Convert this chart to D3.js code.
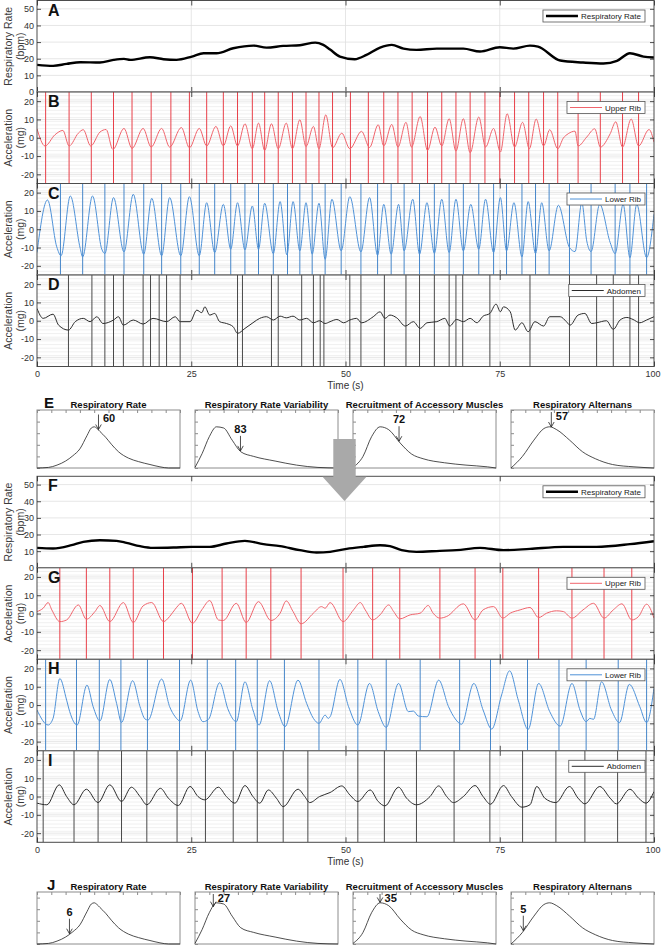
<!DOCTYPE html>
<html>
<head>
<meta charset="utf-8">
<script src="https://cdn.jsdelivr.net/npm/d3@7.9.0/dist/d3.min.js"></script>
<style>
  body { margin: 0; background: #fff; }
  svg { display: block; }
  text { font-family: "Liberation Sans", Arial, sans-serif; }
</style>
</head>
<body>
<svg id="chart" width="661" height="945"></svg>
<script>
// ---------- data ----------
const timeTicks = [0, 25, 50, 75, 100];
const rateTicks = [0, 10, 20, 30, 40, 50];
const accTicks = [-20, -10, 0, 10, 20];

// before: respiratory rate (bpm)
const rateBefore = [[0,16.3],[2.6,15.7],[4.8,16.9],[7,17.9],[10.2,17.7],[12.4,19.3],[14.1,19.9],[15.1,19.3],[18.3,20.9],[20.5,19.7],[22.6,19.3],[25.1,21.3],[27,23.3],[29.1,23.3],[31.8,26.3],[35.1,27.9],[37.2,26.7],[39.9,27.7],[42.6,28.1],[45.1,29.7],[46.4,28.3],[47.5,25.5],[49.1,21.3],[51.5,19.7],[53.4,22.3],[55.6,26.7],[57.5,28.3],[59.4,26.1],[61.5,25.3],[64.8,26.1],[69.1,26.1],[71.8,24.3],[75,26.9],[77.2,26.1],[79.9,27.9],[81.2,27.3],[84.8,18.9],[88.5,17.7],[91.8,17.1],[94,18.7],[96.1,23.3],[98.3,21.3],[100,20.7]];

// before: upper rib acceleration (mg) and breath markers (s)
const upperBefore = [[0,4.9],[1.3,-4.5],[2.9,1.6],[4.2,4],[5.2,-4.5],[6.7,2.5],[7.5,4.4],[8.7,-4.5],[10.2,3.1],[11.2,4.5],[12.3,-6.4],[14.1,5.1],[15.4,-5.8],[17.2,5.1],[18.5,-5.1],[20.2,5.1],[21.5,-5.1],[23.4,5.6],[24.7,-5.5],[26.3,5.1],[27.5,-4.5],[29,6.2],[30.2,-4.5],[31.4,6.5],[32.5,-4.5],[33.7,7.6],[34.9,-6],[35.9,8],[36.9,-6.9],[38,7.6],[39.1,-6],[40.4,8],[41.4,-6],[42.6,9.8],[43.6,-4.8],[44.8,6.2],[45.7,-6],[46.8,12.5],[47.9,-5.5],[49.4,2.5],[50.7,-6],[52.6,3.5],[53.9,-5.3],[55.3,7.1],[56.2,-4.5],[57.5,7.3],[58.5,-5.1],[59.8,8.4],[60.7,-5.1],[62.1,11.6],[63.3,-6.9],[64.5,5.8],[65.6,-4.5],[66.8,10.4],[67.9,-7.3],[69.1,10.4],[70.2,-8.2],[71.6,11.3],[72.7,-5.1],[74,5.1],[75.1,-7.8],[76.2,13.1],[77.4,-5.1],[78.7,8.4],[79.8,-6],[80.9,10.2],[82.1,-4.5],[83.1,4.4],[84.4,-6],[85.3,-0.2],[86.1,2.2],[87.2,3.6],[87.7,-4.5],[89.1,0.4],[90.4,4.9],[91.3,-5.1],[92.9,2.2],[93.8,8.7],[94.9,-5.1],[96.3,10.2],[97.5,-4.5],[99.2,4.5],[100,-2.4]];
const upperBeforeMarks = [1.4,5.2,8.8,12.4,15.4,18.5,21.7,24.7,27.5,30.2,32.5,34.9,36.9,39.1,41.4,43.6,45.7,47.9,50.8,53.7,56.2,58.5,60.8,63.3,65.6,67.9,70.2,72.6,75.0,77.4,79.7,82.1,84.4,87.7,91.3,94.9,97.5];

// before: lower rib
const lowerBefore = [[0,-12.7],[1.7,16],[3.2,-9.6],[3.9,-14.5],[5.4,18.2],[7,-10.4],[7.4,-15.1],[9,18.2],[10.5,-10.9],[11,-13.3],[12.4,17.3],[14.1,-12.4],[15.6,19.1],[17.3,-13.6],[18.6,16.9],[20.2,-14.5],[21.5,17.3],[23.3,-14.5],[24.7,17.8],[26.3,-14.5],[27.5,14.5],[28.8,-12.7],[30.2,13.6],[31.4,-10.9],[32.5,14.5],[33.7,-11.3],[34.9,12.7],[35.9,-10.9],[36.9,14.2],[38.3,-13.3],[39.4,15.1],[40.5,-14],[41.5,15.1],[42.6,-11.8],[43.6,14.5],[44.6,-13.6],[45.7,14.2],[46.7,-16.4],[47.8,16.4],[49.3,-11.8],[50.7,17.8],[52.5,-12.4],[53.9,17.3],[55.2,-14.2],[56.2,13.6],[57.4,-13.6],[58.6,13.6],[59.5,-11.8],[60.9,16.4],[62,-13.6],[63.2,14.5],[64.4,-13.1],[65.6,16.4],[66.8,-12.7],[67.9,16.4],[69.1,-11.8],[70.3,13.6],[71.6,-10.9],[72.7,16.4],[74,-12.7],[75.1,17.3],[76.1,-11.8],[77.3,14.5],[78.6,-15.1],[79.6,15.1],[80.8,-13.3],[81.8,14.5],[83,-11.8],[84.5,13.1],[86.3,-10],[87.2,-12.2],[88.3,14.5],[89.1,-6.4],[89.8,-12.2],[91.2,13.6],[92.9,-7.3],[93.7,-13.3],[95,13.6],[96.1,-15.5],[97.2,13.6],[98.8,-15.5],[100,8.2]];
const lowerBeforeMarks = [3.8,7.4,11.0,14.1,17.3,20.2,23.3,26.3,28.8,31.4,33.7,35.9,38.3,40.6,42.6,44.6,46.7,49.3,52.5,55.2,57.4,59.5,62,64.4,66.8,69.1,71.6,74,76.1,78.6,80.8,83,86.3,89.8,93.7,96.1,98.8];

// before: abdomen
const abdomenBefore = [[0,6.7],[1,1.3],[2.6,3.6],[3.5,-2.4],[5.1,-5.1],[6.2,-0.5],[7.5,1.3],[8.6,-0.5],[9.7,2.2],[10.7,-1.5],[12.4,0.4],[13.2,2.2],[14,-2.4],[15.6,0.4],[17.2,-1.8],[18.8,1.3],[21,-0.5],[22.4,2.2],[23.2,-0.5],[24.8,-0.5],[25.9,5.8],[26.7,4.4],[27.2,7.6],[28,3.1],[28.8,4],[29.6,-0.5],[30.7,-1.5],[31.8,-3.3],[32.5,-6.9],[33.7,-4.2],[35,-1.1],[36.1,1.3],[37.2,2.2],[38.3,0.4],[39.4,2.5],[40.4,1.6],[41.5,2.5],[42.6,0.4],[43.7,1.3],[44.8,-1.1],[45.8,0],[46.7,-1.5],[47.5,-0.5],[48.6,0.7],[49.7,-1.1],[50.7,0.4],[51.8,1.3],[52.6,-1.1],[54.5,2.2],[55.6,4.9],[56.4,1.3],[57.2,3.1],[58.3,1.6],[59.7,-2.9],[61,-0.5],[62.1,-4.2],[63.2,-1.1],[64.8,-0.5],[66.1,1.3],[66.9,-2.9],[68,0.7],[69.1,-0.5],[70.2,1.3],[71.3,-1.1],[72.3,2.5],[73.4,4],[74.4,9.1],[75.1,4.9],[75.6,7.6],[76.7,4.9],[77.5,-5.1],[78.6,-1.1],[79.6,-6],[80.7,-0.5],[82.1,-2.9],[83.1,2.2],[84.8,2.2],[85.8,-0.5],[86.4,-2.4],[87.7,3.1],[88.8,4],[89.9,-1.5],[90.7,-1.1],[92.3,0],[93.4,-4.7],[94.5,0.4],[95.6,1.8],[96.6,0.7],[97.7,-1.1],[98.8,0.4],[100,2.2]];
const abdomenBeforeMarks = [5.1,8.9,11.0,12.4,14.0,17.2,18.4,19.8,21.0,23.2,32.5,33.3,38.0,39.1,42.9,44.8,45.9,46.5,50.7,52.5,56.3,59.8,62,64.4,66.8,67.9,69,73.4,79.9,86.3,90.7,93.4,96.1,97.5];

// after
const rateAfter = [[0,12],[2.6,11.6],[5.6,13.6],[7.5,15.6],[10.2,16.6],[12.9,16.2],[14.5,15],[16.7,13],[18.8,12],[22.1,12.2],[25,12.6],[28,12.6],[30.7,14.6],[33.7,16.2],[36.7,14.2],[39.4,13],[42.6,10.6],[45.3,9.2],[47.5,9.6],[50.2,11.4],[52.9,12.6],[55.6,13.6],[57.2,13],[59.1,10.6],[61.5,9.6],[65.3,10.2],[68,10.6],[71.8,12],[75.6,10.6],[79.9,11.4],[85.3,12.6],[90.7,12.6],[96.1,14.2],[100,16]];

const upperAfter = [[0,1.1],[1,2.9],[1.8,6],[2.4,2],[3.7,-4.4],[4.8,-3.5],[6.7,4.7],[8,-3.1],[9.4,1.1],[10.2,4.4],[11.8,-4.4],[14,6],[15.6,-4.9],[17.2,4.2],[18.6,6],[20.5,-4.4],[21.5,-1.6],[22.4,2.4],[23.4,5.6],[25.2,-5.3],[26.7,2],[28,7.1],[29.4,-3.5],[30.2,-3.8],[32.3,5.6],[33.9,-4.9],[35.9,6.5],[37.9,-3.8],[39.4,0.2],[40.4,6.9],[41.5,1.1],[42.8,-5.6],[44.8,0.2],[46.1,3.8],[46.7,2.9],[47.5,6],[49.6,-4.4],[51.3,2],[52.4,6],[53.2,2],[54.4,-3.5],[55.6,-0.7],[57,4.7],[57.8,1.1],[58.8,-2.9],[60.5,-0.7],[62.1,0.2],[63.4,4.4],[64.2,0.2],[65.3,-2.5],[66.4,-1.6],[69.1,5.3],[71,-3.5],[72.3,2],[74,3.8],[75.5,-2.5],[76.7,0.2],[78.3,2],[79.9,3.3],[81.3,-2.2],[82.6,0.2],[84.2,1.5],[85.3,1.1],[86.7,-2.5],[88.5,2],[90.2,5.6],[91.9,-2.5],[93.4,2],[94.8,5.3],[96.4,-3.5],[97.5,-1.6],[98.8,5.1],[100,-2.5]];
const upperAfterMarks = [3.7,8.0,11.8,15.6,20.5,25.2,30,33.9,37.9,42.8,49.6,54.4,58.8,65.3,71,75.5,81.3,86.7,91.9,96.4];

const lowerAfter = [[0,-2.7],[1.8,-10.9],[2.6,-7.3],[3.7,14.5],[4.8,2.7],[5.3,-3.6],[6.5,-10.9],[8.1,10.9],[9.1,-0.9],[10.2,-8.7],[11.8,14],[12.9,0.9],[13.7,-9.5],[15.5,13.3],[16.7,-0.9],[17.5,-7.6],[18,-8.2],[20.2,14.2],[21.5,-0.9],[22.4,-6.4],[23.2,-8.7],[24.9,13.6],[26.1,-3.6],[26.9,-9.1],[27.8,-7.8],[29.6,12.2],[31,-2.7],[32.3,-9.1],[33.7,12.7],[35,-2.7],[36,-10.9],[37.7,13.3],[39.1,-3.6],[40.2,-11.8],[42.3,13.6],[43.7,0.9],[44.8,-7.3],[45.7,-10],[46.7,-5.5],[47.2,-7.3],[47.5,-6.4],[49.1,14],[50.5,-0.9],[52,-10.9],[53.9,11.8],[55.3,-3.6],[56.6,-12.2],[58.6,11.8],[60.2,-3.6],[61,-3.3],[61.8,-6],[63.2,-6.4],[65.1,13.6],[66.7,-0.9],[67.8,-7.6],[68.8,-10.5],[70.8,11.8],[72.3,-2.7],[73.7,-13.1],[75.3,5.5],[76.6,18.7],[78,2.7],[79.6,-13.3],[81.3,11.8],[83.1,-3.6],[84.8,-11.5],[86.7,11.8],[88,-2.7],[89,-9.1],[89.6,-7.3],[90.2,-7.8],[91.5,12.7],[93.1,-2.7],[94.4,-9.6],[96,11.3],[97.7,-0.9],[98.8,-9.6],[100,9.1]];
const lowerAfterMarks = [1.4,6.4,10.1,13.6,17.9,23.1,27.6,32.2,35.7,40.1,45.7,52,56.6,62.1,68.5,73.5,79.5,84.6,89,94.2,98.8];

const abdomenAfter = [[0,-3.6],[1.6,-4.5],[3.6,6.4],[4.8,0],[6,-4.5],[8,4],[9.9,-3.3],[11.8,6.4],[13.7,-2.7],[15.3,5.1],[16.7,0],[17.8,-4.5],[20,4.5],[21.3,-0.9],[22.9,-4.9],[24.8,5.5],[26.1,0],[27.2,-1.8],[29.4,5.1],[30.7,0],[32.1,-3.6],[33.7,6],[35,0],[36.1,-3.6],[37.5,3.6],[38.8,-0.9],[39.9,-5.5],[42.3,4],[43.4,0],[44.2,-3.3],[45.8,0],[47.5,2.2],[49.4,5.8],[50.7,0.9],[52,-2.7],[54,3.6],[55.3,-2.7],[56.4,-5.1],[58.6,5.1],[59.9,-0.9],[61.5,-4.5],[63.7,0],[65.1,5.8],[66.4,0],[67.5,-3.3],[69.1,0],[71,6],[72.3,0],[73.5,-4.2],[75.6,6],[76.9,0],[78.6,-5.8],[79.9,-4.5],[81,5.5],[82.3,-0.9],[84.1,-3.3],[86.3,5.5],[87.7,-0.9],[88.8,-4],[91.2,5.5],[92.9,-0.9],[93.9,-4],[96.1,4],[97.5,-0.9],[98.7,-3.6],[100,2.7]];
const abdomenAfterMarks = [1.0,6.0,9.9,13.7,17.8,22.7,27.3,31.8,35.7,39.9,43.9,52,56.3,61.5,67.6,73.4,78.7,84.1,88.8,94.1,98.7];

// population distributions: [relative position, relative density]
const distTitles = ['Respiratory Rate', 'Respiratory Rate Variability', 'Recruitment of Accessory Muscles', 'Respiratory Alternans'];
const distRate = [[0,0],[0.08,0.01],[0.14,0.05],[0.2,0.12],[0.25,0.21],[0.3,0.33],[0.35,0.56],[0.38,0.69],[0.4,0.71],[0.42,0.68],[0.44,0.63],[0.48,0.53],[0.52,0.41],[0.57,0.28],[0.64,0.17],[0.71,0.11],[0.79,0.06],[0.86,0.02],[0.92,0],[1,0]];
const distVariability = [[0,0.01],[0.05,0.25],[0.1,0.54],[0.15,0.71],[0.2,0.69],[0.26,0.48],[0.32,0.28],[0.41,0.2],[0.56,0.12],[0.71,0.05],[0.86,0.01],[1,0]];
const distAccessory = [[0,0.01],[0.07,0.2],[0.13,0.54],[0.19,0.71],[0.25,0.66],[0.33,0.43],[0.41,0.24],[0.49,0.16],[0.64,0.09],[0.79,0.05],[0.94,0.02],[1,0]];
const distAlternans = [[0,0],[0.08,0.2],[0.16,0.48],[0.23,0.68],[0.27,0.71],[0.32,0.66],[0.41,0.48],[0.5,0.28],[0.59,0.16],[0.71,0.06],[0.86,0.02],[1,0]];
const scoresBefore = [60, 83, 72, 57];
const scorePosBefore = [0.43, 0.318, 0.322, 0.282];
const scoresAfter = [6, 27, 35, 5];
const scorePosAfter = [0.227, 0.128, 0.189, 0.086];

// ---------- layout ----------
const plotLeft = 37, plotRight = 654, panelH = 91.5;
const ink = '#262626';
const svg = d3.select('#chart');
const x = d3.scaleLinear().domain([0, 100]).range([plotLeft, plotRight]);
let clipCount = 0;

function styleAxis(sel) {
  sel.attr('font-family', null).attr('font-size', null);
  sel.select('.domain').remove();
  sel.selectAll('.tick line').attr('stroke', ink).attr('stroke-width', 0.8);
  sel.selectAll('.tick text').attr('fill', '#333').style('font-size', '9px');
}

function drawPanel(top, p) {
  const bottom = top + panelH;
  const y = d3.scaleLinear().domain(p.domain).range([bottom, top]);
  const g = svg.append('g');
  const clipId = 'clip' + (clipCount++);
  g.append('clipPath').attr('id', clipId).append('rect')
    .attr('x', plotLeft).attr('y', top).attr('width', plotRight - plotLeft).attr('height', panelH);

  g.append('rect').attr('x', plotLeft).attr('y', top)
    .attr('width', plotRight - plotLeft).attr('height', panelH).attr('fill', '#fff');

  if (p.minor) {
    const minorVals = d3.range(p.domain[0], p.domain[1] + 1e-6, p.minor).filter(v => !p.ticks.includes(v));
    g.append('g').selectAll('line').data(minorVals).join('line')
      .attr('x1', plotLeft).attr('x2', plotRight)
      .attr('y1', d => y(d)).attr('y2', d => y(d))
      .attr('stroke', '#ececec').attr('stroke-width', 0.8);
  }
  g.append('g').selectAll('line').data(p.ticks).join('line')
    .attr('x1', plotLeft).attr('x2', plotRight)
    .attr('y1', d => y(d)).attr('y2', d => y(d))
    .attr('stroke', '#e0e0e0').attr('stroke-width', 0.8);
  g.append('g').selectAll('line').data(timeTicks.slice(1, -1)).join('line')
    .attr('x1', d => x(d)).attr('x2', d => x(d))
    .attr('y1', top).attr('y2', bottom)
    .attr('stroke', '#e0e0e0').attr('stroke-width', 0.8);

  if (p.marks) {
    g.append('g').attr('clip-path', `url(#${clipId})`)
      .selectAll('line').data(p.marks).join('line')
      .attr('x1', d => x(d)).attr('x2', d => x(d))
      .attr('y1', top).attr('y2', bottom)
      .attr('stroke', p.markColor).attr('stroke-width', 1);
  }

  const line = d3.line().x(d => x(d[0])).y(d => y(d[1])).curve(d3.curveMonotoneX);
  g.append('path').datum(p.data)
    .attr('clip-path', `url(#${clipId})`)
    .attr('d', line).attr('fill', 'none')
    .attr('stroke', p.color).attr('stroke-width', p.lw)
    .attr('stroke-linejoin', 'round');

  g.append('rect').attr('x', plotLeft).attr('y', top)
    .attr('width', plotRight - plotLeft).attr('height', panelH)
    .attr('fill', 'none').attr('stroke', '#4d4d4d').attr('stroke-width', 1);

  // inward ticks on all four sides, labels on the left (and bottom when asked)
  g.append('g').attr('transform', `translate(${plotLeft},0)`)
    .call(d3.axisLeft(y).tickValues(p.ticks).tickSizeInner(-4).tickSizeOuter(0).tickPadding(3).tickFormat(d => String(d)))
    .call(styleAxis);
  g.append('g').attr('transform', `translate(${plotRight},0)`)
    .call(d3.axisRight(y).tickValues(p.ticks).tickSizeInner(-4).tickSizeOuter(0).tickFormat(''))
    .call(styleAxis);
  g.append('g').attr('transform', `translate(0,${top})`)
    .call(d3.axisTop(x).tickValues(timeTicks).tickSizeInner(-5).tickSizeOuter(0).tickFormat(''))
    .call(styleAxis);
  const xb = g.append('g').attr('transform', `translate(0,${bottom})`)
    .call(d3.axisBottom(x).tickValues(timeTicks).tickSizeInner(-5).tickSizeOuter(0).tickPadding(4)
      .tickFormat(p.xLabels ? d => String(d) : ''))
    .call(styleAxis);
  if (p.xLabels) {
    xb.selectAll('.tick text').filter(d => d === 100).attr('dx', '-1.5');
    g.append('text').attr('x', (plotLeft + plotRight) / 2).attr('y', bottom + 22.5)
      .attr('text-anchor', 'middle').attr('font-size', 10).attr('fill', '#333').text('Time (s)');
  }

  // y title (two lines)
  const ymid = (top + bottom) / 2;
  p.yTitle.forEach((t, i) => {
    g.append('text').attr('transform', `translate(${12 + i * 11.5},${ymid}) rotate(-90)`)
      .attr('text-anchor', 'middle').attr('font-size', 10.5).attr('fill', '#3a3a3a').text(t);
  });

  // legend
  const lg = g.append('g');
  const txt = lg.append('text').attr('font-size', 8).attr('fill', '#222').text(p.legend);
  const tw = txt.node().getComputedTextLength();
  const lw = 38 + tw + 4;
  const lx = plotRight - 9 - lw, ly = top + 9.5;
  lg.insert('rect', 'text').attr('x', lx).attr('y', ly).attr('width', lw).attr('height', 12)
    .attr('fill', '#fff').attr('stroke', '#555').attr('stroke-width', 0.8);
  lg.append('line').attr('x1', lx + 3).attr('x2', lx + 35).attr('y1', ly + 6).attr('y2', ly + 6)
    .attr('stroke', p.color).attr('stroke-width', p.lw);
  txt.attr('x', lx + 38).attr('y', ly + 9);

  // panel letter
  g.append('text').attr('x', 48).attr('y', top + 15).attr('font-size', 16)
    .attr('font-weight', 'bold').attr('fill', '#111').text(p.letter);
}

function drawGroup(top, letters, rate, upper, upperMarks, lower, lowerMarks, abd, abdMarks) {
  const acc = ['Acceleration', '(mg)'];
  drawPanel(top, { letter: letters[0], domain: [0, 55], ticks: rateTicks, data: rate, color: '#000', lw: 2.4,
    legend: 'Respiratory Rate', yTitle: ['Respiratory Rate', '(bpm)'] });
  drawPanel(top + panelH, { letter: letters[1], domain: [-25, 25], ticks: accTicks, minor: 2, data: upper,
    color: '#f0646c', lw: 1, marks: upperMarks, markColor: '#e8404a', legend: 'Upper Rib', yTitle: acc });
  drawPanel(top + 2 * panelH, { letter: letters[2], domain: [-25, 25], ticks: accTicks, minor: 2, data: lower,
    color: '#4f92d8', lw: 1, marks: lowerMarks, markColor: '#4686c9', legend: 'Lower Rib', yTitle: acc });
  drawPanel(top + 3 * panelH, { letter: letters[3], domain: [-25, 25], ticks: accTicks, minor: 2, data: abd,
    color: '#2b2b2b', lw: 1, marks: abdMarks, markColor: '#4a4a4a', legend: 'Abdomen', yTitle: acc, xLabels: true });
}

drawGroup(0.5, ['A', 'B', 'C', 'D'], rateBefore, upperBefore, upperBeforeMarks,
  lowerBefore, lowerBeforeMarks, abdomenBefore, abdomenBeforeMarks);
drawGroup(476.3, ['F', 'G', 'H', 'I'], rateAfter, upperAfter, upperAfterMarks,
  lowerAfter, lowerAfterMarks, abdomenAfter, abdomenAfterMarks);

// ---------- distribution strips ----------
const distCurves = [distRate, distVariability, distAccessory, distAlternans];
const boxLefts = [37, 195, 353, 511], boxW = 143, densityH = 58;

function heightAt(curve, r) {
  const i = d3.bisector(d => d[0]).right(curve, r);
  const a = curve[Math.max(0, i - 1)], b = curve[Math.min(curve.length - 1, i)];
  if (b[0] === a[0]) return a[1];
  return a[1] + (b[1] - a[1]) * (r - a[0]) / (b[0] - a[0]);
}

function drawStrip(top, boxH, letter, letterX, scores, pos, placement) {
  const g = svg.append('g');
  const bottom = top + boxH;
  g.append('text').attr('x', letterX).attr('y', top - 2).attr('font-size', 15)
    .attr('font-weight', 'bold').attr('fill', '#111').text(letter);
  distCurves.forEach((curve, k) => {
    const left = boxLefts[k];
    const sx = d3.scaleLinear().domain([0, 1]).range([left, left + boxW]);
    const sy = d3.scaleLinear().domain([0, 1]).range([bottom, bottom - densityH]);
    g.append('rect').attr('x', left).attr('y', top).attr('width', boxW).attr('height', boxH)
      .attr('fill', '#fff').attr('stroke', '#8c8c8c').attr('stroke-width', 1);
    g.append('g').attr('transform', `translate(0,${top})`)
      .call(d3.axisTop(sx).ticks(12).tickSizeInner(-3).tickSizeOuter(0).tickFormat(''))
      .call(s => { s.select('.domain').remove(); s.selectAll('line').attr('stroke', '#8c8c8c'); });
    g.append('g').attr('transform', `translate(${left},0)`)
      .call(d3.axisLeft(sy).ticks(5).tickSizeInner(-3).tickSizeOuter(0).tickFormat(''))
      .call(s => {
        s.select('.domain').remove();
        s.selectAll('line').attr('stroke', '#8c8c8c');
        s.selectAll('.tick').filter(d => sy(d) < top).remove();
      });
    g.append('path').datum(curve)
      .attr('d', d3.line().x(d => sx(d[0])).y(d => sy(d[1])).curve(d3.curveMonotoneX))
      .attr('fill', 'none').attr('stroke', '#222').attr('stroke-width', 0.8);
    g.append('text').attr('x', left + boxW / 2).attr('y', top - 2.5).attr('text-anchor', 'middle')
      .attr('font-size', 9.5).attr('font-weight', 'bold').attr('fill', '#111').text(distTitles[k]);

    // score arrow
    const ax = sx(pos[k]);
    const tip = sy(heightAt(curve, pos[k])) - 0.5;
    const start = Math.max(top + 2, tip - 15);
    g.append('line').attr('x1', ax).attr('x2', ax).attr('y1', start).attr('y2', tip)
      .attr('stroke', '#222').attr('stroke-width', 0.8);
    g.append('path').attr('d', `M${ax - 2.8},${tip - 5}L${ax},${tip}L${ax + 2.8},${tip - 5}`)
      .attr('fill', 'none').attr('stroke', '#222').attr('stroke-width', 0.8);
    const lbl = g.append('text').attr('font-family', '"Open Sans", sans-serif')
      .attr('font-size', 11).attr('font-weight', 'bold').attr('fill', '#111').text(scores[k]);
    if (placement[k] === 'right') lbl.attr('x', ax + 4.5).attr('y', start + 7.5);
    else lbl.attr('x', ax).attr('y', start - 3).attr('text-anchor', 'middle');
  });
}

drawStrip(410, 58, 'E', 44, scoresBefore, scorePosBefore, ['right', 'above', 'above', 'right']);
drawStrip(892, 52, 'J', 47, scoresAfter, scorePosAfter, ['above', 'right', 'right', 'above']);

// ---------- big grey arrow between the two recordings ----------
const arrowCx = 344.5;
svg.append('path')
  .attr('d', `M${arrowCx - 11.2},439 H${arrowCx + 11.2} V476.7 H${arrowCx + 22} L${arrowCx},501 L${arrowCx - 22},476.7 H${arrowCx - 11.2} Z`)
  .attr('fill', '#a9a9a9');
</script>
</body>
</html>
